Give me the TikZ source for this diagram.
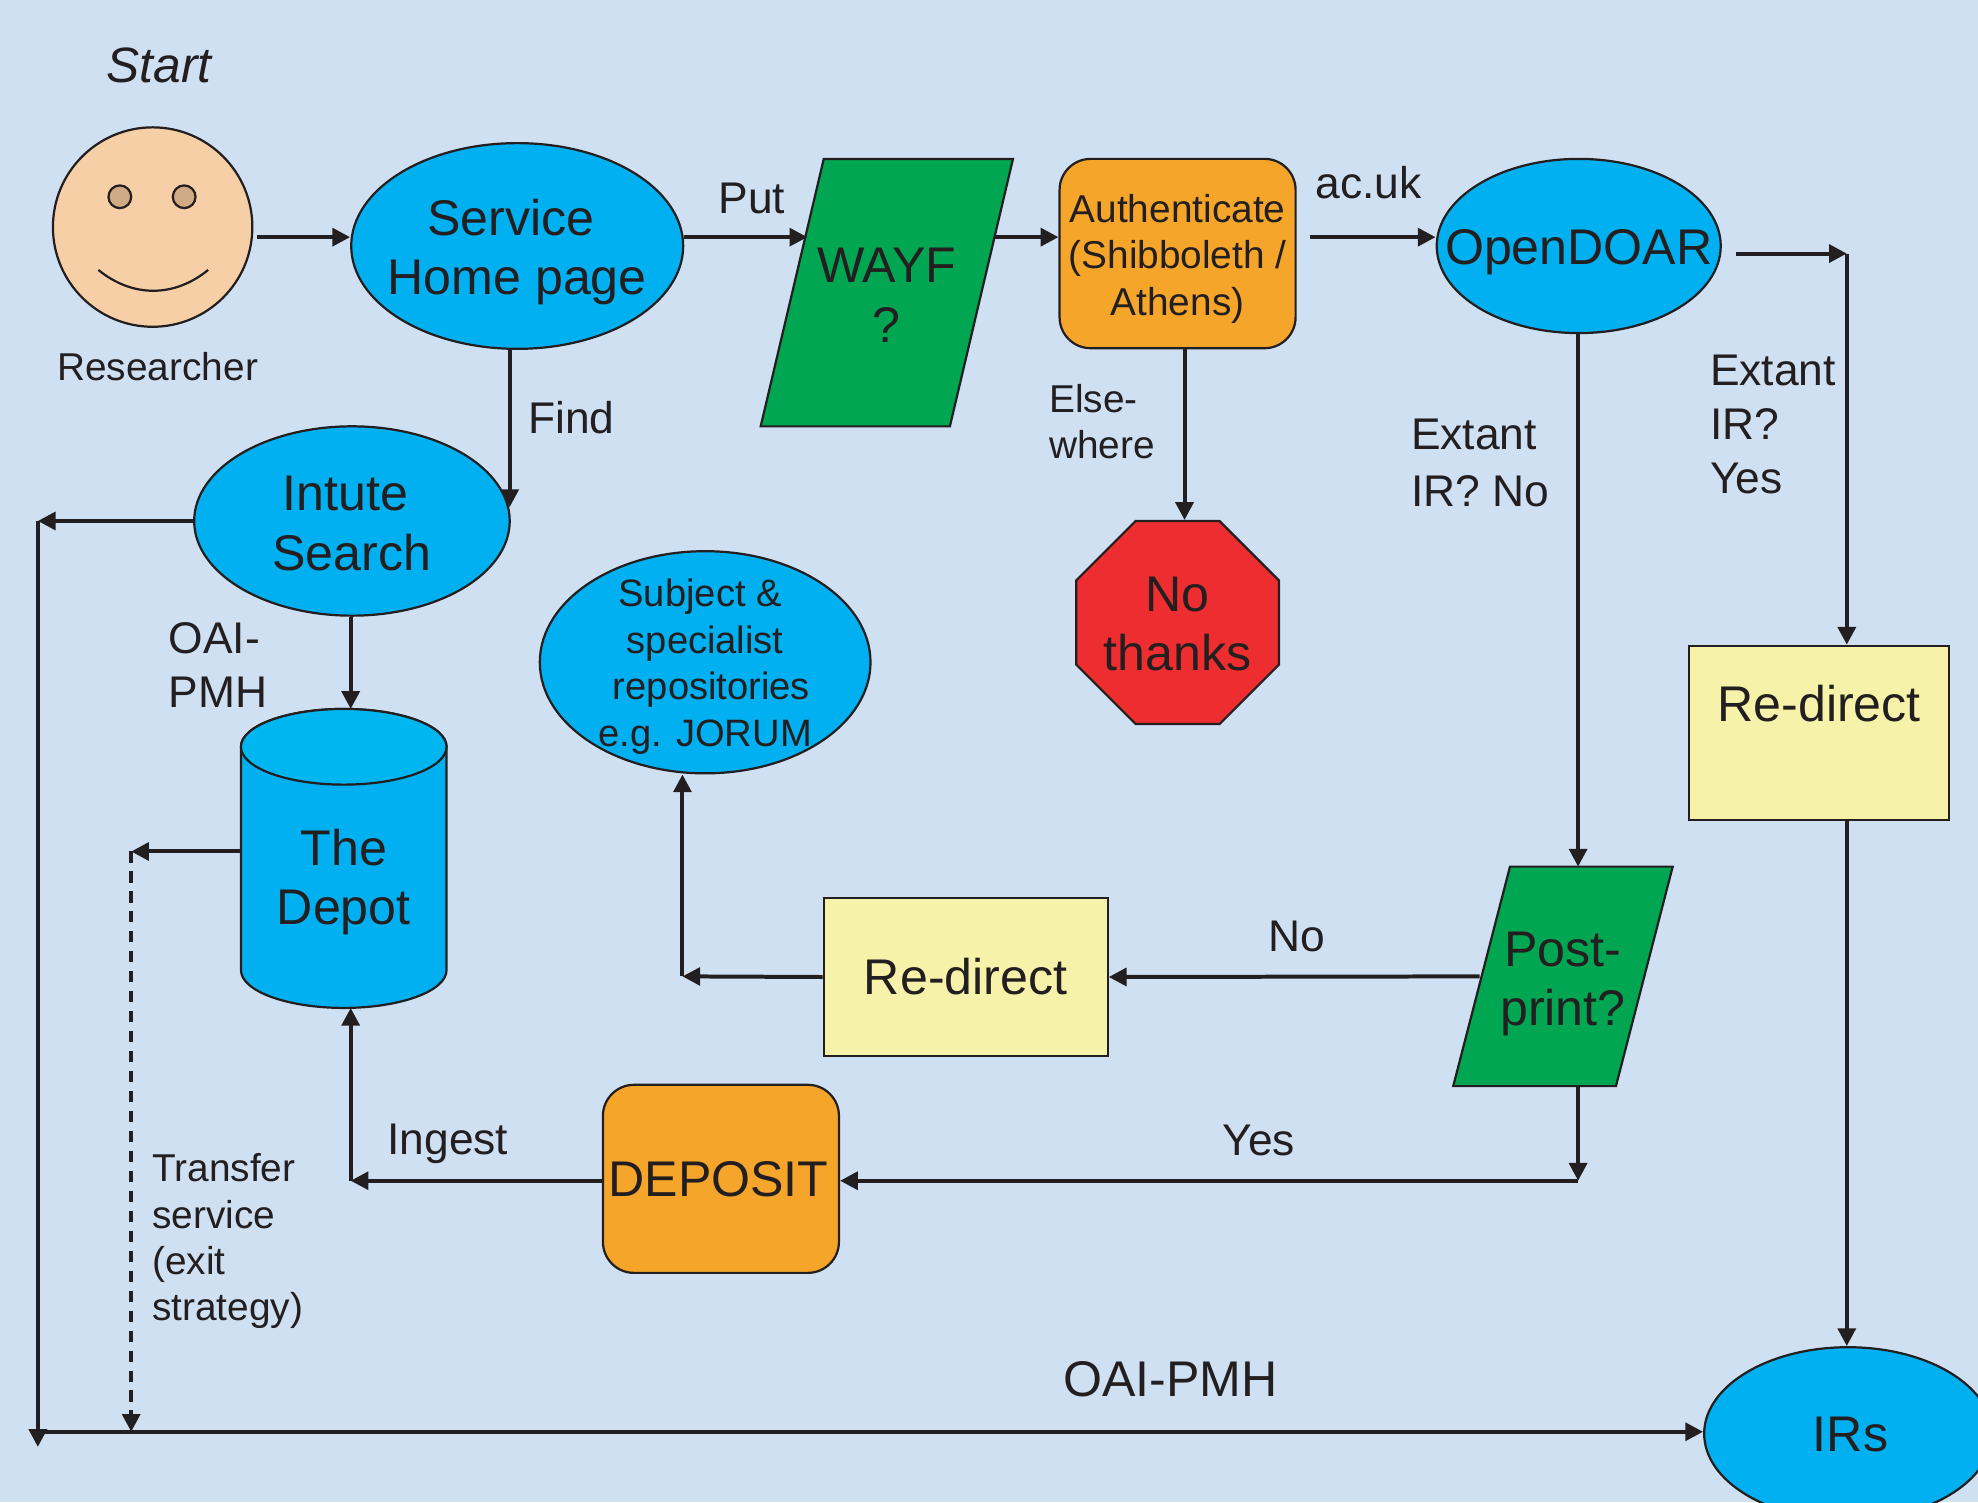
\documentclass[tikz,border=0pt]{standalone}
\usepackage{fontspec}
\setmainfont{Liberation Sans}
\usetikzlibrary{arrows.meta,shapes.geometric}
\definecolor{pagebg}{HTML}{CFE0F3}
\definecolor{inkline}{HTML}{231F20}
\definecolor{cyanfill}{HTML}{00B0F0}
\definecolor{cyantop}{HTML}{00B6F1}
\definecolor{greenfill}{HTML}{00A651}
\definecolor{orangefill}{HTML}{F5A52A}
\definecolor{redfill}{HTML}{EE2D30}
\definecolor{yellowfill}{HTML}{F7F2AA}
\definecolor{facefill}{HTML}{F6CFA6}
\definecolor{eyefill}{HTML}{CFAA85}
\tikzset{
  every node/.style={text=inkline,inner sep=0pt,align=center},
  bigtext/.style={font=\fontsize{11.3}{13.4}\selectfont},
  smalltext/.style={font=\fontsize{8.75}{10.45}\selectfont},
  shapebox/.style={draw=inkline,line width=0.5pt,bigtext},
  oval/.style={shapebox,ellipse,fill=cyanfill},
  slanted/.style={draw=inkline,line width=0.5pt,fill=greenfill},
  softbox/.style={shapebox,rectangle,rounded corners=7pt,fill=orangefill},
  notebox/.style={shapebox,rectangle,fill=yellowfill},
  flow/.style={draw=inkline,line width=0.9pt,-{Triangle[length=4pt,width=4pt]}},
  textA/.style={font=\fontsize{10}{12.2}\selectfont,align=left},
  textB/.style={smalltext,align=left},
}
\begin{document}
\begin{tikzpicture}[x=0.01cm,y=-0.01cm]
\fill[pagebg] (0,0) rectangle (1568,1191);
\useasboundingbox (0,0) rectangle (1568,1191);
\clip (0,0) rectangle (1568,1191);
% the face
\node[draw=inkline,line width=0.5pt,circle,fill=facefill,minimum size=1.58cm] (researcher) at (121,180) {};
\node[draw=inkline,line width=0.5pt,circle,fill=eyefill,minimum size=0.18cm] (lefteye) at (95,156) {};
\node[draw=inkline,line width=0.5pt,circle,fill=eyefill,minimum size=0.18cm] (righteye) at (146,156) {};
\draw[inkline,line width=0.5pt] (78,214) .. controls (105,236) and (138,236) .. (165,214);
% shapes
\node[oval,minimum width=2.63cm,minimum height=1.63cm] (service) at (410,195) {};
\node[bigtext] (servicetext) at (410,200) {\hspace{-0.1cm}Service\\Home page};
\draw[slanted] (603,338) -- (653,126) -- (803,126) -- (753,338) -- cycle;
\node[bigtext] (wayf) at (703,234) {WAYF\\?};
\node[softbox,minimum width=1.87cm,minimum height=1.5cm] (auth) at (933.5,201) {};
\node[smalltext] (authtext) at (933.5,205) {Authenticate\\(Shibboleth /\\Athens)};
\node[oval,minimum width=2.25cm,minimum height=1.38cm] (opendoar) at (1251.5,195) {};
\node[bigtext] (opendoartext) at (1251.5,200) {OpenDOAR};
\node[oval,minimum width=2.5cm,minimum height=1.5cm] (intute) at (279,413) {};
\node[bigtext] (intutetext) at (279,415) {\hspace{-0.1cm}Intute\\Search};
\node[oval,minimum width=2.62cm,minimum height=1.76cm] (subject) at (559,525) {};
\node[font=\fontsize{8.6}{10.5}\selectfont] (subjecttext) at (559,528.5) {\hspace{-0.08cm}Subject \&\\specialist\\\hspace{0.1cm}repositories\\e.g. JORUM};
\node[shapebox,regular polygon,regular polygon sides=8,minimum size=1.74cm,fill=redfill] (nothanks) at (933.5,493.5) {};
\node[bigtext] (nothankstext) at (933.5,494.5) {No\\thanks};
% the depot is a drum
\draw[slanted,fill=cyanfill] (191,592) -- (191,769) .. controls (191,785.6) and (227.5,799) .. (272.5,799) .. controls (317.5,799) and (354,785.6) .. (354,769) -- (354,592) .. controls (354,575.4) and (317.5,562) .. (272.5,562) .. controls (227.5,562) and (191,575.4) .. (191,592) -- cycle;
\draw[slanted,fill=cyantop] (191,592) .. controls (191,608.6) and (227.5,622) .. (272.5,622) .. controls (317.5,622) and (354,608.6) .. (354,592) .. controls (354,575.4) and (317.5,562) .. (272.5,562) .. controls (227.5,562) and (191,575.4) .. (191,592) -- cycle;
\node[bigtext] (depot) at (272.5,699) {The\\Depot};
\node[notebox,minimum width=2.06cm,minimum height=1.38cm] (redirecta) at (1442,581) {};
\node[bigtext] (redirectatext) at (1442,558) {Re-direct};
\node[notebox,minimum width=2.25cm,minimum height=1.25cm] (redirectb) at (765.5,774.5) {Re-direct};
\draw[slanted] (1152,861) -- (1197,687) -- (1326,687) -- (1281,861) -- cycle;
\node[bigtext] (postprint) at (1239,780) {Post-\\print?};
\node[softbox,minimum width=1.87cm,minimum height=1.49cm] (deposit) at (571.5,934.5) {\hspace{-0.04cm}DEPOSIT};
\node[oval,minimum width=2.28cm,minimum height=1.37cm] (irs) at (1465,1136.5) {};
\node[bigtext] (irstext) at (1467,1137.5) {IRs};
% labels
\node[font=\fontsize{11.2}{13}\selectfont\itshape] (startlabel) at (126,52) {Start};
\node[textB] (researcherlabel) at (125,291) {Researcher};
\node[textA] (putlabel) at (596,157) {Put};
\node[textA] (findlabel) at (453,331) {Find};
\node[textA] (acuklabel) at (1085,145) {ac.uk};
\node[textB,anchor=west] (elselabel) at (831,334) {Else-\\where};
\node[textA,anchor=west] (extantnolabel) at (1118,367) {Extant\\[0.02cm]IR? No};
\node[textA,anchor=west] (extantyeslabel) at (1355,336.5) {Extant\\IR?\\Yes};
\node[textA,anchor=west] (oailabel) at (133,527) {OAI-\\PMH};
\node[textA] (nolabel) at (1028,742) {No};
\node[textA] (yeslabel) at (998,904) {Yes};
\node[textA] (ingestlabel) at (355,907) {Ingest};
\node[textB,anchor=west] (transferlabel) at (120,984) {Transfer\\service\\(exit\\strategy)};
\node[font=\fontsize{11.3}{13}\selectfont] (oaibottomlabel) at (928,1093) {OAI-PMH};
% free ends and corners of the connectors
\coordinate (rowtop) at (0,188);
\coordinate (wayfin) at (640,188);
\coordinate (wayfout) at (788,188);
\coordinate (doarcorner) at (1464,201);
\coordinate (findcol) at (404,0);
\coordinate (intutecorner) at (30,413);
\coordinate (leftend) at (30,1147);
\coordinate (leftstart) at (30,1135);
\coordinate (depotcorner) at (104,675);
\coordinate (depotout) at (191,675);
\coordinate (busjoin) at (104,1135);
\coordinate (authcol) at (939,0);
\coordinate (postin) at (1251,687);
\coordinate (postleft) at (1173,774);
\coordinate (postdown) at (1251,861);
\coordinate (postcorner) at (1251,936);
\coordinate (noteleft) at (541,774);
\coordinate (depositcorner) at (278,936);
\coordinate (depotin) at (278,799);
\coordinate (depottop) at (278,562);
% connectors
\draw[flow,shorten <=0.9pt] (researcher.east |- rowtop) -- (service.west |- rowtop);
\draw[flow] (service.east |- rowtop) -- (wayfin);
\draw[flow] (wayfout) -- (auth.west |- rowtop);
\draw[flow,shorten <=3.1pt] (auth.east |- rowtop) -- (opendoar.west |- rowtop);
\draw[flow,shorten <=3.1pt] (opendoar.east |- doarcorner) -- (doarcorner);
\draw[flow] (doarcorner) -- (doarcorner |- redirecta.north);
\draw[flow,shorten >=3.1pt] (service.south -| findcol) -- (findcol |- intute.east);
\draw[flow] (intute.west) -- (intutecorner);
\draw[flow] (intutecorner) -- (leftend);
\draw[flow] (leftstart) -- (irs.west |- leftstart);
\draw[flow] (intute.south -| depottop) -- (depottop);
\draw[flow] (depotout) -- (depotcorner);
\draw[flow,dash pattern=on 2.5pt off 2pt] (depotcorner) -- (busjoin);
\draw[flow] (auth.south -| authcol) -- (authcol |- nothanks.north);
\draw[flow] (opendoar.south -| postin) -- (postin);
\draw[flow] (postleft) -- (redirectb.east);
\draw[flow] (redirectb.west) -- (noteleft);
\draw[flow] (noteleft) -- (noteleft |- subject.south);
\draw[flow] (postdown) -- (postcorner);
\draw[flow] (postcorner) -- (deposit.east |- postcorner);
\draw[flow] (deposit.west |- postcorner) -- (depositcorner);
\draw[flow] (depositcorner) -- (depotin);
\draw[flow] (redirecta.south -| doarcorner) -- (doarcorner |- irs.north);
\end{tikzpicture}
\end{document}
